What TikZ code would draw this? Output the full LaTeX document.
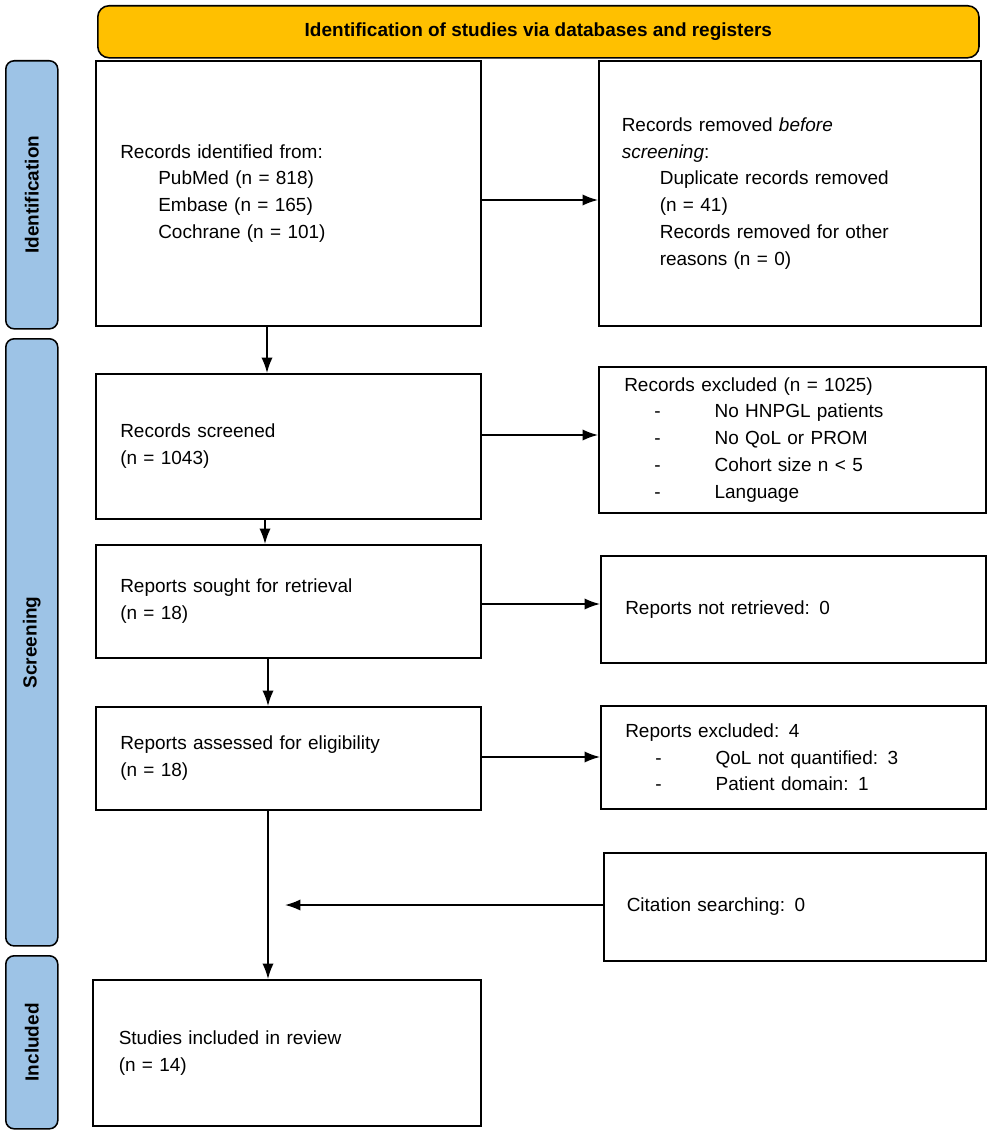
\documentclass[tikz,border=0pt]{standalone}
\usepackage{fontspec}
\setmainfont{Liberation Sans}
\usetikzlibrary{positioning,arrows.meta}
\definecolor{headorange}{HTML}{FFC000}
\definecolor{sideblue}{HTML}{9DC3E6}
\tikzset{
	% ---- default
	every path/.style={line width=1.1pt},
	every node/.style={font=\fontsize{13.5}{19}\selectfont},
	% ---- custom
	box/.style={draw, anchor=north west, align=left, inner xsep=0.55cm, inner ysep=0pt},
	side/.style={draw, rounded corners=6pt, fill=sideblue, anchor=north west, minimum width=1.3cm, inner sep=0pt},
	flow/.style={-{Latex[length=11pt,width=8pt]}, line width=1.1pt},
}
\newcommand{\ind}{\hspace*{0.95cm}}
\newcommand{\itm}{\hspace*{0.75cm}-\hspace*{1.35cm}}
\begin{document}
\begin{tikzpicture}[x=0.025cm, y=-0.025cm]

% frame %{{{2

	\useasboundingbox (0,0) rectangle (993,1135);

% header and phases %{{{2

	\node[draw, rounded corners=8pt, fill=headorange, anchor=north west, minimum width=22.025cm, minimum height=1.3cm, font=\fontsize{13.5}{19}\selectfont\bfseries] (head) at (97,5) {Identification of studies via databases and registers};
	\node[side, minimum height=6.7cm] (phid) at (5,60) {};
	\node[rotate=90, font=\fontsize{13.5}{19}\selectfont\bfseries] at (phid.center) {Identification};
	\node[side, minimum height=15.175cm] (phscr) at (5,338) {};
	\node[rotate=90, font=\fontsize{13.5}{19}\selectfont\bfseries] at (phscr.center) {Screening};
	\node[side, minimum height=4.325cm] (phinc) at (5,955) {};
	\node[rotate=90, font=\fontsize{13.5}{19}\selectfont\bfseries] at (phinc.center) {Included};

% boxes %{{{2

	\node[box, minimum width=9.625cm, minimum height=6.625cm, text width=8.4cm] (ident) at (95,60)
		{Records identified from:\\ \ind PubMed (n = 818)\\ \ind Embase (n = 165)\\ \ind Cochrane (n = 101)};
	\node[box, minimum width=9.55cm, minimum height=6.625cm, text width=8.4cm] (removed) at (598,60)
		{Records removed \emph{before}\\ \emph{screening}:\\ \ind Duplicate records removed\\ \ind (n = 41)\\ \ind Records removed for other\\ \ind reasons (n = 0)};
	\node[box, minimum width=9.625cm, minimum height=3.625cm, text width=8.4cm] (screened) at (95,373)
		{Records screened\\ (n = 1043)};
	\node[box, minimum width=9.675cm, minimum height=3.65cm, text width=8.4cm] (excluded) at (598,366)
		{Records excluded (n = 1025)\\ \itm No HNPGL patients\\ \itm No QoL or PROM\\ \itm Cohort size n \textless{} 5\\ \itm Language};
	\node[box, minimum width=9.625cm, minimum height=2.825cm, text width=8.4cm] (sought) at (95,544)
		{Reports sought for retrieval\\ (n = 18)};
	\node[box, minimum width=9.625cm, minimum height=2.675cm, text width=8.4cm] (notret) at (600,555)
		{Reports not retrieved: 0};
	\node[box, minimum width=9.625cm, minimum height=2.575cm, text width=8.4cm] (assessed) at (95,706)
		{Reports assessed for eligibility\\ (n = 18)};
	\node[box, minimum width=9.625cm, minimum height=2.575cm, text width=8.4cm] (repexcl) at (600,705)
		{Reports excluded: 4\\ \itm QoL not quantified: 3\\ \itm Patient domain: 1};
	\node[box, minimum width=9.55cm, minimum height=2.7cm, text width=8.4cm] (citation) at (603,852)
		{Citation searching: 0};
	\node[box, minimum width=9.7cm, minimum height=3.65cm, text width=8.4cm] (included) at (92,979)
		{Studies included in review\\ (n = 14)};

% connectors %{{{2

	\coordinate (cit) at (285,905);
	\draw[flow] (ident.south -| 267,0) -- (screened.north -| 267,0);
	\draw[flow] (screened.south -| 265,0) -- (sought.north -| 265,0);
	\draw[flow] (sought.south -| 268,0) -- (assessed.north -| 268,0);
	\draw[flow] (assessed.south -| 268,0) -- (included.north -| 268,0);
	\draw[flow] (ident.east |- 0,200) -- (removed.west |- 0,200);
	\draw[flow] (screened.east |- 0,435) -- (excluded.west |- 0,435);
	\draw[flow] (sought.east |- 0,604) -- (notret.west |- 0,604);
	\draw[flow] (assessed.east |- 0,757) -- (repexcl.west |- 0,757);
	\draw[flow] (citation.west |- cit) -- (cit);

% closing %{{{2

\end{tikzpicture}
\end{document}
